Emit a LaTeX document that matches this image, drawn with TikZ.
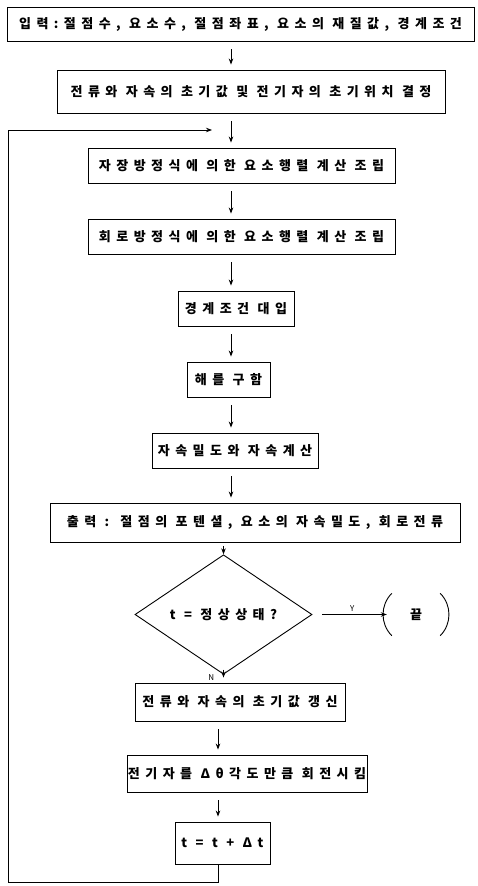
\documentclass[tikz,border=0pt]{standalone}
\usepackage{fontspec}
\newfontfamily\krfont[LetterSpace=42]{Noto Sans CJK KR}
\newfontfamily\krplain{Noto Sans CJK KR}
\usetikzlibrary{arrows.meta,shapes.geometric}
\begin{document}
\begin{tikzpicture}[x=1pt,y=-1pt,
  box/.style={draw, line width=0.9pt, inner sep=0pt, minimum height=35pt,
    font=\krfont\bfseries\fontsize{13}{15}\selectfont},
  arr/.style={-{Stealth[length=6pt,width=4.5pt]}, line width=0.8pt,
    shorten <=8pt, shorten >=5pt},
  loopline/.style={-{Stealth[length=6pt,width=4.5pt]}, line width=0.8pt},
  lbl/.style={font=\krplain\fontsize{8}{9}\selectfont, inner sep=1pt}]
\useasboundingbox (0,0) rectangle (477,886);

\coordinate (axa) at (231,0);
\coordinate (axb) at (218,0);

\node[box, minimum width=467pt, minimum height=34pt] (b1) at (240.5,24)
  {입력:절점수, 요소수, 절점좌표, 요소의 재질값, 경계조건};
\node[box, minimum width=388pt, minimum height=43pt] (b2) at (251,91.5)
  {전류와 자속의 초기값 및 전기자의 초기위치 결정};
\node[box, minimum width=307pt] (b3) at (241.5,165.5)
  {자장방정식에 의한 요소행렬 계산 조립};
\node[box, minimum width=307pt] (b4) at (241.5,236.5)
  {회로방정식에 의한 요소행렬 계산 조립};
\node[box, minimum width=116pt] (b5) at (236,308.5) {경계조건 대입};
\node[box, minimum width=83pt] (b6) at (228.5,379.5) {해를 구함};
\node[box, minimum width=166pt] (b7) at (235,450.5) {자속밀도와 자속계산};
\node[box, minimum width=410pt, minimum height=39pt] (b8) at (255,522.5)
  {출력 : 절점의 포텐셜, 요소의 자속밀도, 회로전류};
\node[box, diamond, minimum width=177pt, minimum height=85pt] (dia) at (223.5,614.5)
  {t = 정상상태?};
\node[font=\krfont\bfseries\fontsize{13}{15}\selectfont, minimum width=48pt,
  minimum height=42pt, inner sep=0pt] (end) at (416,614.5) {끝};
\draw[line width=0.9pt] (end.north west) to[bend right=45] (end.south west);
\draw[line width=0.9pt] (end.north east) to[bend left=45] (end.south east);
\node[box, minimum width=210pt, minimum height=38pt] (b10) at (240,702)
  {전류와 자속의 초기값 갱신};
\node[box, minimum width=240pt, minimum height=37pt] (b11) at (247,773.5)
  {전기자를 Δθ각도만큼 회전시킴};
\node[box, minimum width=95pt, minimum height=42pt] (b12) at (222.5,843)
  {t = t + Δt};

\draw[arr] (b1.south -| axa) -- (b2.north -| axa);
\draw[arr] (b2.south -| axa) -- (b3.north -| axa);
\draw[arr] (b3.south -| axa) -- (b4.north -| axa);
\draw[arr] (b4.south -| axa) -- (b5.north -| axa);
\draw[arr] (b5.south -| axa) -- (b6.north -| axa);
\draw[arr] (b6.south -| axa) -- (b7.north -| axa);
\draw[arr] (b7.south -| axa) -- (b8.north -| axa);
\draw[arr, shorten >=0pt, shorten <=4pt] (b8.south -| dia.north) -- (dia.north);
\draw[arr, shorten <=10pt] (dia.east) -- node[lbl, above=2pt, pos=0.5] {Y} (end.west);
\draw[arr, shorten <=5pt] (dia.south) -- node[lbl, left=8pt, pos=0.35] {N} (b10.north -| dia.south);
\draw[arr] (b10.south -| axb) -- (b11.north -| axb);
\draw[arr] (b11.south -| axb) -- (b12.north -| axb);

\coordinate (lb) at (8,882);
\coordinate (lt) at (8,130);
\coordinate (lend) at (212,130);
\draw[loopline] (b12.south -| axb) |- (lb) -- (lt) -- (lend);
\end{tikzpicture}
\end{document}
